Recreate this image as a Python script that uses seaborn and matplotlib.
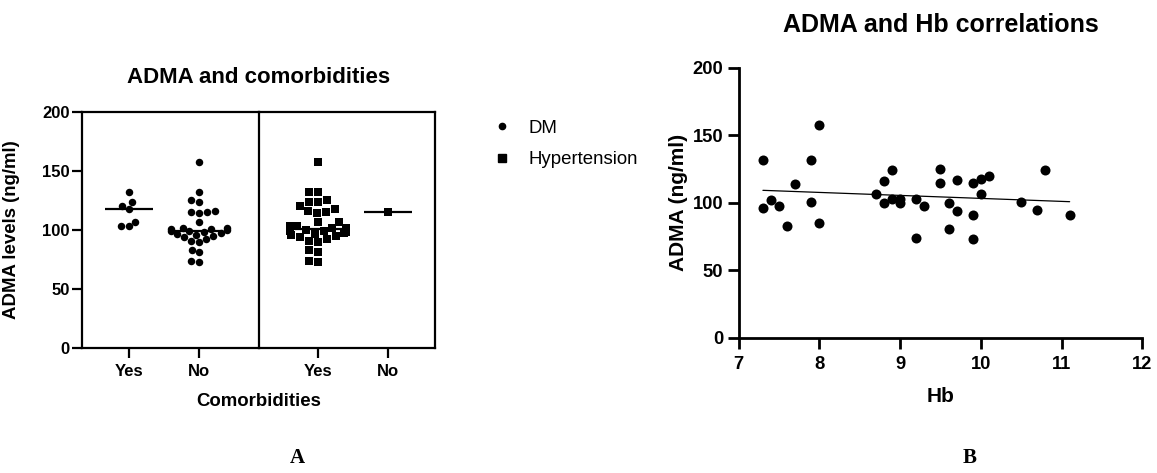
import numpy as np
import pandas as pd
import matplotlib.pyplot as plt
from matplotlib.lines import Line2D
import seaborn as sns

# -----------------------------
# DATA
# -----------------------------
status_order = ["Yes", "No"]

dm_yes = [132, 124, 118, 120, 103, 107, 103]
dm_no = [158, 132, 125, 124, 116, 115.5, 115, 114, 106.5,
         102, 101.5, 101, 100.5, 100, 99.5, 99, 98, 97.5, 97,
         96, 95, 94, 92, 91, 90, 83, 81, 73.5, 73]
htn_yes = [158, 132, 132, 125, 124, 124, 120, 118, 116, 115.5, 114,
           107, 106.5, 103, 103, 102, 101.5, 101, 100.5, 100, 99.5,
           99, 98, 97.5, 97, 96, 95, 94, 92, 91, 90, 83, 81, 73.5, 73]
htn_no = [115]

hb = [7.3, 7.3, 7.4, 7.5, 7.6, 7.7, 7.9, 7.9, 8.0, 8.0, 8.7, 8.8,
      8.8, 8.9, 8.9, 9.0, 9.0, 9.2, 9.2, 9.3, 9.5, 9.5, 9.6, 9.6,
      9.7, 9.7, 9.9, 9.9, 9.9, 10.0, 10.0, 10.1, 10.5, 10.7, 10.8, 11.1]
adma = [131.6, 95.8, 101.7, 97.8, 82.7, 113.8, 131.6, 100.7, 157.8, 84.7,
        106.7, 115.8, 99.8, 124.0, 102.7, 102.7, 99.8, 102.7, 73.8, 97.8,
        124.9, 114.8, 99.8, 80.7, 116.8, 93.8, 114.8, 90.9, 72.8, 117.8,
        106.7, 119.8, 100.7, 94.8, 124.0, 90.9]

dm = pd.DataFrame({"status": ["Yes"] * len(dm_yes) + ["No"] * len(dm_no),
                   "ADMA": dm_yes + dm_no})
htn = pd.DataFrame({"status": ["Yes"] * len(htn_yes) + ["No"] * len(htn_no),
                    "ADMA": htn_yes + htn_no})
corr = pd.DataFrame({"Hb": hb, "ADMA": adma})

# -----------------------------
# STYLE
# -----------------------------
sns.set_style("ticks")
plt.rcParams["font.family"] = ["Liberation Sans", "DejaVu Sans"]
plt.rcParams["font.weight"] = "bold"
plt.rcParams["axes.labelweight"] = "bold"
for key in ["text.color", "axes.labelcolor", "xtick.color", "ytick.color",
            "axes.edgecolor"]:
    plt.rcParams[key] = "black"

W, H = 1157, 473
fig = plt.figure(figsize=(W / 100, H / 100), dpi=100)


def frac(x0, y0, x1, y1):
    return [x0 / W, 1 - y1 / H, (x1 - x0) / W, (y1 - y0) / H]


ax1 = fig.add_axes(frac(82, 112, 259, 348))
ax2 = fig.add_axes(frac(259, 112, 435, 348))
ax3 = fig.add_axes(frac(738.7, 67.7, 1142.3, 337.7))
ax2.patch.set_visible(False)

# -----------------------------
# PANEL A: swarms with median lines
# -----------------------------
for ax, data, marker, size in [(ax1, dm, "o", 5.4), (ax2, htn, "s", 6.4)]:
    sns.swarmplot(data=data, x="status", y="ADMA", order=status_order,
                  color="black", marker=marker, size=size, linewidth=0, ax=ax)
    med = data.groupby("status")["ADMA"].median()
    for i, s in enumerate(status_order):
        ax.hlines(med[s], i - 0.336, i + 0.336, color="black", lw=1.6, zorder=3)
    ax.set_ylim(0, 200)
    ax.set_yticks([0, 50, 100, 150, 200])
    ax.set_xlabel("")
    ax.set_ylabel("")
    for sp in ax.spines.values():
        sp.set_linewidth(1.6)
        sp.set_color("black")
    ax.tick_params(axis="x", length=7, width=1.6, pad=4.5, labelsize=12)
    ax.tick_params(axis="y", length=7, width=1.6, pad=2, labelsize=12)

ax1.set_xlim(-47 / 70, 1 + 60 / 70)
ax2.set_xlim(-59 / 70, 1 + 47 / 70)
ax2.spines["left"].set_visible(False)
ax2.tick_params(axis="y", left=False, labelleft=False)

ax1.set_ylabel("ADMA levels (ng/ml)", fontsize=13.4)
ax1.yaxis.set_label_coords((20 - 82) / 177, 0.5)

fig.text(258.5 / W, 1 - 401 / H, "Comorbidities", ha="center", va="center",
         fontsize=13.4, fontweight="bold")
fig.text(258.5 / W, 1 - 83 / H, "ADMA and comorbidities", ha="center",
         va="baseline", fontsize=16, fontweight="bold")

handles = [Line2D([], [], ls="none", marker="o", color="black", markersize=4.5),
           Line2D([], [], ls="none", marker="s", color="black", markersize=6)]
fig.legend(handles, ["DM", "Hypertension"], loc="center left",
           bbox_to_anchor=(492.7 / W, 1 - 144 / H), frameon=False,
           borderpad=0, borderaxespad=0, handlelength=1.0, handletextpad=0.95,
           labelspacing=0.78, prop={"size": 13.4, "weight": "normal"})

# -----------------------------
# PANEL B: ADMA vs Hb with linear fit
# -----------------------------
sns.regplot(data=corr, x="Hb", y="ADMA", ci=None, ax=ax3,
            scatter_kws={"s": 52, "color": "black", "linewidths": 0, "alpha": 1},
            line_kws={"color": "black", "lw": 0.9})
ax3.set_xlim(7, 12)
ax3.set_ylim(0, 200)
ax3.set_xticks([7, 8, 9, 10, 11, 12])
ax3.set_yticks([0, 50, 100, 150, 200])
sns.despine(ax=ax3)
for sp in ["left", "bottom"]:
    ax3.spines[sp].set_linewidth(2)
    ax3.spines[sp].set_color("black")
ax3.tick_params(axis="both", length=8, width=2, labelsize=13.2)
ax3.tick_params(axis="x", pad=5)
ax3.tick_params(axis="y", pad=3)
ax3.set_xlabel("Hb", fontsize=15, va="center")
ax3.xaxis.set_label_coords(0.5, (337.7 - 396) / 270)
ax3.set_ylabel("ADMA (ng/ml)", fontsize=15, va="center")
ax3.yaxis.set_label_coords((679 - 738.7) / 403.6, 0.5)

fig.text(940.5 / W, 1 - 31.7 / H, "ADMA and Hb correlations", ha="center",
         va="baseline", fontsize=18, fontweight="bold")

# panel letters
fig.text(297 / W, 1 - 458 / H, "A", ha="center", va="center", fontsize=15,
         fontweight="bold", family="Liberation Serif")
fig.text(970 / W, 1 - 458 / H, "B", ha="center", va="center", fontsize=15,
         fontweight="bold", family="Liberation Serif")

fig.savefig("out.png", dpi=100)
